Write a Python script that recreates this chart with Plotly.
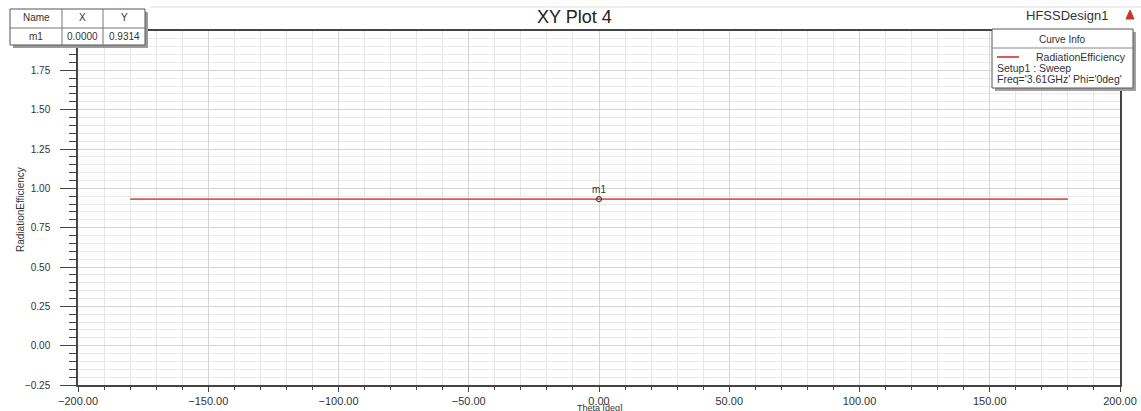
import plotly.graph_objects as go

# ---- data ----
theta_deg = [-180, -120, -60, 0, 60, 120, 180]
radiation_efficiency = [0.9314, 0.9314, 0.9314, 0.9314, 0.9314, 0.9314, 0.9314]
marker_name = ["m1"]
marker_x = [0.0]
marker_y = [0.9314]
x_ticks = [-200, -150, -100, -50, 0, 50, 100, 150, 200]
y_ticks = [-0.25, 0.0, 0.25, 0.5, 0.75, 1.0, 1.25, 1.5, 1.75]

W, H = 1141, 411
L, R, T, B = 78, 1120, 31, 385
FONT = "Liberation Sans, Arial, sans-serif"


def px(x):
    return (x - L) / (R - L)


def py(y):
    return (B - y) / (B - T)


fig = go.Figure()
fig.add_trace(go.Scatter(
    x=theta_deg, y=radiation_efficiency, mode="lines",
    line=dict(color="#de5a56", width=1.6), name="RadiationEfficiency",
    showlegend=False, hoverinfo="x+y"))
fig.add_trace(go.Scatter(
    x=marker_x, y=marker_y, mode="markers+text", text=marker_name,
    textposition="top center", textfont=dict(family=FONT, size=10, color="#333"),
    marker=dict(symbol="circle-open", size=5, color="#444", line=dict(width=1.2)),
    showlegend=False))

shapes = []
annotations = []

# faint outer line at top
shapes.append(dict(type="line", xref="paper", yref="paper", x0=px(150), x1=px(1141),
                   y0=py(7), y1=py(7), line=dict(color="#dddddd", width=1)))

# marker table with shadow
shapes.append(dict(type="rect", xref="paper", yref="paper", x0=px(13), x1=px(148),
                   y0=py(12), y1=py(48), fillcolor="#9a9a9a", line=dict(width=0), layer="above"))
shapes.append(dict(type="rect", xref="paper", yref="paper", x0=px(10), x1=px(145),
                   y0=py(9), y1=py(45), fillcolor="white", line=dict(color="#555", width=1), layer="above"))
shapes.append(dict(type="line", xref="paper", yref="paper", x0=px(10), x1=px(145),
                   y0=py(28), y1=py(28), line=dict(color="#777", width=1), layer="above"))
for cx in (62, 103):
    shapes.append(dict(type="line", xref="paper", yref="paper", x0=px(cx), x1=px(cx),
                       y0=py(9), y1=py(45), line=dict(color="#777", width=1), layer="above"))
cells = [("Name", 36, 18), ("X", 82, 18), ("Y", 124, 18),
         (marker_name[0], 36, 37), (f"{marker_x[0]:.4f}", 82, 37), (f"{marker_y[0]:.4f}", 124, 37)]
for txt, cx, cy in cells:
    annotations.append(dict(text=txt, xref="paper", yref="paper", x=px(cx), y=py(cy),
                            showarrow=False, xanchor="center", yanchor="middle",
                            font=dict(family=FONT, size=10, color="#333")))

# legend box (Curve Info)
shapes.append(dict(type="rect", xref="paper", yref="paper", x0=px(995), x1=px(1136),
                   y0=py(32), y1=py(91), fillcolor="#a0a0a0", line=dict(width=0), layer="above"))
shapes.append(dict(type="rect", xref="paper", yref="paper", x0=px(992), x1=px(1133),
                   y0=py(29), y1=py(88), fillcolor="white", line=dict(color="#555", width=1), layer="above"))
shapes.append(dict(type="line", xref="paper", yref="paper", x0=px(992), x1=px(1133),
                   y0=py(48), y1=py(48), line=dict(color="#888", width=1), layer="above"))
shapes.append(dict(type="line", xref="paper", yref="paper", x0=px(997), x1=px(1019),
                   y0=py(57), y1=py(57), line=dict(color="#de5a56", width=2), layer="above"))
annotations.append(dict(text="Curve Info", xref="paper", yref="paper", x=px(1062), y=py(39),
                        showarrow=False, xanchor="center", yanchor="middle",
                        font=dict(family=FONT, size=10, color="#333")))
annotations.append(dict(text="RadiationEfficiency", xref="paper", yref="paper", x=px(1128), y=py(57),
                        showarrow=False, xanchor="right", yanchor="middle",
                        font=dict(family=FONT, size=10.5, color="#333")))
annotations.append(dict(text="Setup1 : Sweep", xref="paper", yref="paper", x=px(995), y=py(68),
                        showarrow=False, xanchor="left", yanchor="middle",
                        font=dict(family=FONT, size=10.5, color="#333")))
annotations.append(dict(text="Freq='3.61GHz' Phi='0deg'", xref="paper", yref="paper", x=px(995), y=py(79),
                        showarrow=False, xanchor="left", yanchor="middle",
                        font=dict(family=FONT, size=10.5, color="#333")))

# design name and red triangle
annotations.append(dict(text="HFSSDesign1", xref="paper", yref="paper", x=px(1067), y=py(16),
                        showarrow=False, xanchor="center", yanchor="middle",
                        font=dict(family=FONT, size=13, color="#333")))
shapes.append(dict(type="path", xref="paper", yref="paper", layer="above",
                   path=f"M {px(1126)} {py(19)} L {px(1134)} {py(19)} L {px(1130)} {py(10)} Z",
                   fillcolor="#c0392b", line=dict(color="#c0392b", width=1)))

# title
annotations.append(dict(text="XY Plot 4", xref="paper", yref="paper", x=px(574), y=py(17),
                        showarrow=False, xanchor="center", yanchor="middle",
                        font=dict(family=FONT, size=18, color="#222")))
# axis titles
annotations.append(dict(text="RadiationEfficiency", xref="paper", yref="paper", x=px(20), y=py(210),
                        showarrow=False, xanchor="center", yanchor="middle", textangle=-90,
                        font=dict(family=FONT, size=10, color="#333")))
annotations.append(dict(text="Theta [deg]", xref="paper", yref="paper", x=px(600), y=py(408),
                        showarrow=False, xanchor="center", yanchor="middle",
                        font=dict(family=FONT, size=9, color="#333")))

fig.update_layout(
    width=W, height=H,
    margin=dict(l=L, r=W - R, t=T, b=H - B, pad=0, autoexpand=False),
    paper_bgcolor="white", plot_bgcolor="white",
    shapes=shapes, annotations=annotations,
    showlegend=False,
    xaxis=dict(range=[-200, 200], tickmode="array", tickvals=x_ticks, tickformat=".2f",
               automargin=False,
               showgrid=True, gridcolor="#d4d4d4", gridwidth=1,
               ticks="outside", ticklen=5, tickcolor="#444",
               minor=dict(dtick=10, tick0=0, showgrid=True, gridcolor="#e6e6e6",
                          ticks="outside", ticklen=3, tickcolor="#444"),
               showline=True, linecolor="#444", linewidth=1.5, mirror=True,
               zeroline=False,
               tickfont=dict(family=FONT, size=11, color="#333")),
    yaxis=dict(range=[-0.25, 2.0], tickmode="array", tickvals=y_ticks, tickformat=".2f",
               automargin=False,
               showgrid=True, gridcolor="#d4d4d4", gridwidth=1,
               ticks="outside", ticklen=16, tickcolor="#444", ticklabelstandoff=8,
               minor=dict(dtick=0.05, tick0=0, showgrid=True, gridcolor="#ebebeb",
                          ticks="outside", ticklen=7, tickcolor="#444"),
               showline=True, linecolor="#444", linewidth=1.5, mirror=True,
               zeroline=False,
               tickfont=dict(family=FONT, size=10, color="#333")),
)

fig.write_html(
    "out.html",
    config={"displayModeBar": False},
    post_script="document.body.style.margin='0';document.body.style.padding='0';"
                "document.body.style.overflow='hidden';",
)
